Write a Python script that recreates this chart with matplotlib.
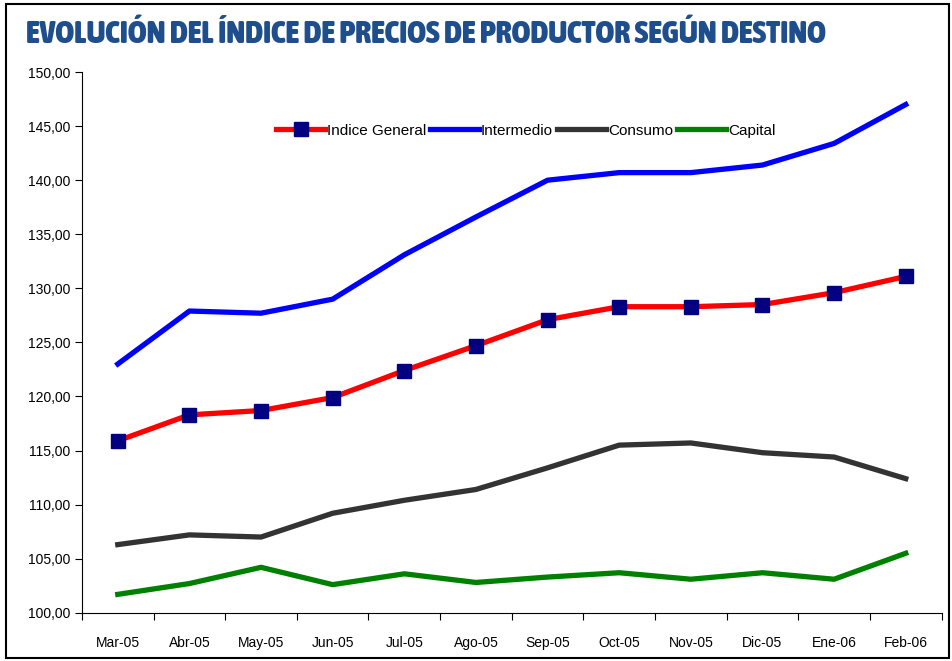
import matplotlib
matplotlib.use('Agg')
import matplotlib.pyplot as plt
from matplotlib.font_manager import fontManager, FontProperties
from matplotlib.patches import Rectangle
from matplotlib.ticker import FuncFormatter

meses = ['Mar-05', 'Abr-05', 'May-05', 'Jun-05', 'Jul-05', 'Ago-05',
         'Sep-05', 'Oct-05', 'Nov-05', 'Dic-05', 'Ene-06', 'Feb-06']
general = [115.9, 118.3, 118.7, 119.9, 122.4, 124.7, 127.1, 128.3, 128.3, 128.5, 129.6, 131.1]
intermedio = [123.0, 127.9, 127.7, 129.0, 133.1, 136.6, 140.0, 140.7, 140.7, 141.4, 143.4, 147.0]
consumo = [106.3, 107.2, 107.0, 109.2, 110.4, 111.4, 113.4, 115.5, 115.7, 114.8, 114.4, 112.4]
capital = [101.7, 102.7, 104.2, 102.6, 103.6, 102.8, 103.3, 103.7, 103.1, 103.7, 103.1, 105.5]

titulo = 'EVOLUCIÓN DEL ÍNDICE DE PRECIOS DE PRODUCTOR SEGÚN DESTINO'


def wnum(w):
    named = {'thin': 100, 'light': 300, 'normal': 400, 'regular': 400, 'medium': 500,
             'semibold': 600, 'bold': 700, 'heavy': 800, 'black': 900}
    return w if isinstance(w, int) else named.get(str(w).lower(), 400)


# heaviest condensed face available for the title
cond = [f for f in fontManager.ttflist
        if 'condensed' in str(f.stretch).lower() or 'Condensed' in f.name or 'Narrow' in f.name]
if cond:
    best = max(cond, key=lambda f: (wnum(f.weight), 'extra' in str(f.stretch).lower()))
    title_fp = FontProperties(fname=best.fname, size=23)
else:
    title_fp = FontProperties(family='Liberation Sans', weight='bold', size=18)

plt.rcParams['font.family'] = ['Liberation Sans', 'DejaVu Sans']

fig = plt.figure(figsize=(9.53, 6.61), dpi=100)
ax = fig.add_axes([0.086, 0.073, 0.902, 0.818])

x = range(len(meses))
ax.plot(x, general, color='#ff0000', lw=3.8, marker='s', ms=10,
        mfc='#000080', mec='#000080', label='Indice General', zorder=5)
ax.plot(x, intermedio, color='#0000ff', lw=3.8, label='Intermedio')
ax.plot(x, consumo, color='#333333', lw=3.8, label='Consumo')
ax.plot(x, capital, color='#008000', lw=3.8, label='Capital')

ax.set_xlim(-0.5, len(meses) - 0.5)
ax.set_ylim(100, 150)
ax.set_yticks(range(100, 151, 5))
ax.yaxis.set_major_formatter(FuncFormatter(lambda v, p: f'{v:.2f}'.replace('.', ',')))
ax.set_xticks([i - 0.5 for i in range(len(meses) + 1)])
ax.set_xticklabels([])
ax.set_xticks(list(x), minor=True)
ax.set_xticklabels(meses, minor=True)
ax.tick_params(axis='x', which='major', length=5, direction='out')
ax.tick_params(axis='x', which='minor', length=0, pad=17, labelsize=10)
ax.tick_params(axis='y', length=5, labelsize=10)
for s in ['top', 'right']:
    ax.spines[s].set_visible(False)

ax.legend(loc='upper left', bbox_to_anchor=(0.21, 0.93), ncol=4, frameon=False,
          handlelength=3.2, handletextpad=0.1, columnspacing=0.3, fontsize=11)

fig.text(0.027, 0.948, titulo, fontproperties=title_fp,
         color='#1f4e8c', va='center', ha='left')

fig.patches.append(Rectangle((0.006, 0.004), 0.99, 0.99, transform=fig.transFigure,
                             fill=False, ec='black', lw=1.5))

fig.savefig('out.png', dpi=100)
